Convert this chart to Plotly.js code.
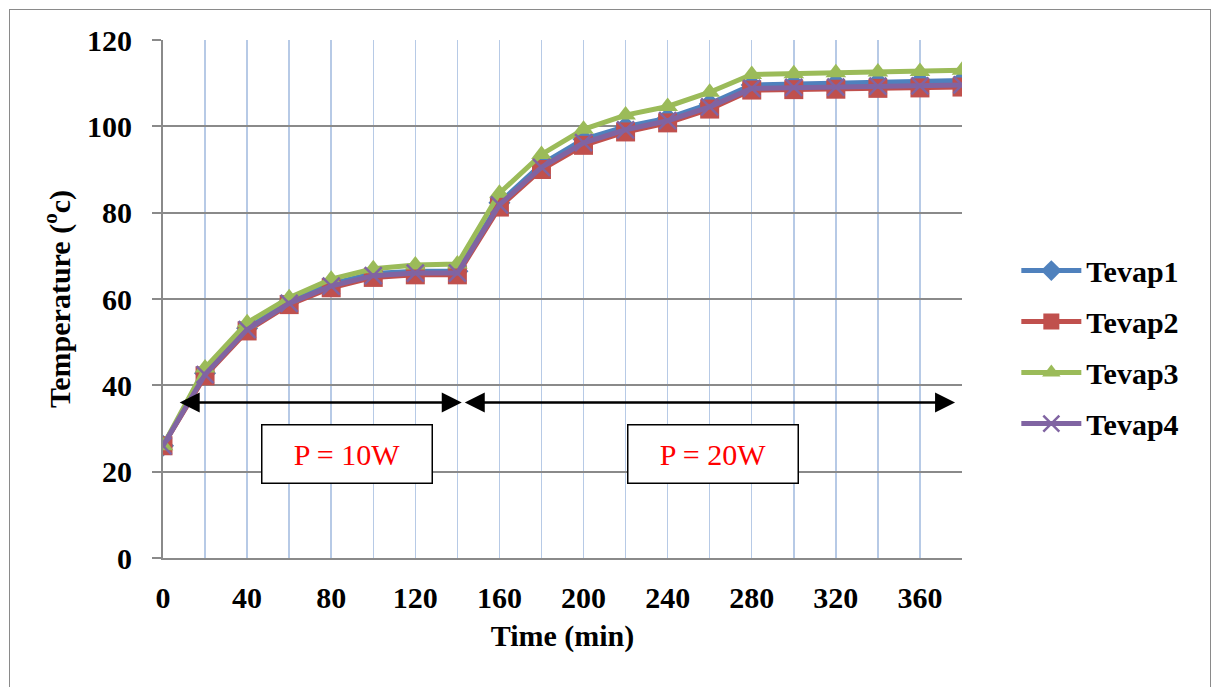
<!DOCTYPE html>
<html>
<head>
<meta charset="utf-8">
<script src="https://cdn.plot.ly/plotly-3.0.1.min.js"></script>
<style>
  html, body { margin: 0; padding: 0; background: #fff; }
  #wrap { position: relative; width: 1219px; height: 687px; overflow: hidden; }
  #chart { width: 1219px; height: 687px; }
  #frame { position: absolute; left: 9px; top: 9px; width: 1202px; height: 700px;
           border: 1.5px solid #8a8a8a; pointer-events: none; box-sizing: border-box; }
</style>
</head>
<body>
<div id="wrap">
  <div id="chart"></div>
  <div id="frame"></div>
</div>
<script>
// ---- data ----
const timeMin = [0, 20, 40, 60, 80, 100, 120, 140, 160, 180, 200, 220, 240, 260, 280, 300, 320, 340, 360, 380];
const tevap1 = [26, 42.8, 53.2, 59.3, 63.5, 65.9, 66.4, 66.4, 82.3, 91.2, 97.0, 99.9, 101.9, 105.2, 109.6, 109.8, 110.0, 110.2, 110.4, 110.6];
const tevap2 = [26, 42.2, 52.6, 58.7, 62.6, 65.0, 65.6, 65.6, 81.3, 90.0, 95.6, 98.7, 100.8, 104.0, 108.4, 108.5, 108.6, 108.8, 108.9, 109.1];
const tevap3 = [26, 44.0, 54.5, 60.3, 64.6, 67.0, 67.9, 68.1, 84.5, 93.5, 99.3, 102.6, 104.6, 107.9, 112.0, 112.2, 112.4, 112.6, 112.7, 113.0];
const tevap4 = [26, 42.5, 52.9, 59.0, 63.0, 65.4, 66.0, 66.0, 81.8, 90.5, 96.2, 99.2, 101.3, 104.5, 108.8, 109.0, 109.1, 109.3, 109.4, 109.6];
const seriesNames = ["Tevap1", "Tevap2", "Tevap3", "Tevap4"];
const xTickVals = [0, 40, 80, 120, 160, 200, 240, 280, 320, 360];
const yTickVals = [0, 20, 40, 60, 80, 100, 120];
// power phases: [start, end, label]
const phaseStart = [6.5, 142.1];
const phaseEnd = [142.1, 376.7];
const phaseLabel = ["P = 10W", "P = 20W"];
const phaseLabelX = [87.5, 261.4];
const arrowY = 36;
const labelY = 24;

const FONT = "Liberation Serif, Times New Roman, serif";

const styles = [
  {color: "#4f81bd", symbol: "diamond", size: 17, lw: 0},
  {color: "#c0504d", symbol: "square", size: 19, lw: 0},
  {color: "#9bbb59", symbol: "triangle-up", size: 18, lw: 0},
  {color: "#8064a2", symbol: "x-thin", size: 17, lw: 2.5}
];
const ys = [tevap1, tevap2, tevap3, tevap4];

const traces = ys.map((y, i) => ({
  x: timeMin, y: y, name: seriesNames[i], type: "scatter", mode: "lines+markers",
  legendgroup: "g" + i,
  line: {color: styles[i].color, width: 5},
  marker: {symbol: styles[i].symbol, size: styles[i].size, color: styles[i].color,
           line: {color: styles[i].color, width: styles[i].lw}}
}));

const annotations = [];
for (let k = 0; k < phaseStart.length; k++) {
  annotations.push({
    x: phaseEnd[k], y: arrowY, ax: phaseStart[k], ay: arrowY, axref: "x", ayref: "y",
    xref: "x", yref: "y", text: " ", font: {size: 10},
    showarrow: true, arrowside: "end+start", arrowhead: 2, startarrowhead: 2,
    arrowsize: 1.6, startarrowsize: 1.6, arrowwidth: 2.5, arrowcolor: "#000",
    standoff: 0, startstandoff: 0
  });
  annotations.push({
    x: phaseLabelX[k], y: labelY, xref: "x", yref: "y", text: phaseLabel[k],
    showarrow: false, font: {family: FONT, size: 30, color: "#ff0000"},
    bgcolor: "#ffffff", bordercolor: "#000000", borderwidth: 1.5, borderpad: 2,
    width: 165, height: 53
  });
}

const layout = {
  width: 1219, height: 687,
  margin: {l: 163, r: 257, t: 40, b: 129, autoexpand: false},
  paper_bgcolor: "#ffffff", plot_bgcolor: "#ffffff",
  font: {family: FONT, size: 30, color: "#000"},
  showlegend: true,
  legend: {
    x: 1.068, xanchor: "left", y: 0.605, yanchor: "top",
    font: {family: FONT, size: 30, weight: "bold", color: "#000"},
    traceorder: "grouped", tracegroupgap: 9, itemwidth: 60,
    bgcolor: "rgba(0,0,0,0)", borderwidth: 0
  },
  xaxis: {
    range: [0, 380], tickmode: "array", tickvals: xTickVals,
    showgrid: true, gridcolor: "#b7cae6", gridwidth: 1.5,
    minor: {tickmode: "linear", tick0: 0, dtick: 20, showgrid: true, gridcolor: "#b7cae6", gridwidth: 1.5, ticks: ""},
    showline: true, linecolor: "#8a8a8a", linewidth: 2, zeroline: false,
    ticks: "", ticklabelstandoff: 12,
    tickfont: {family: FONT, size: 30, weight: "bold"},
    title: {text: "Time (min)", font: {family: FONT, size: 30, weight: "bold"}, standoff: 12},
    automargin: false, fixedrange: true
  },
  yaxis: {
    range: [0, 120], tickmode: "array", tickvals: yTickVals,
    showgrid: true, gridcolor: "#8a8a8a", gridwidth: 2,
    showline: true, linecolor: "#8a8a8a", linewidth: 2, zeroline: false,
    ticks: "outside", ticklen: 9, tickwidth: 2, tickcolor: "#8a8a8a",
    ticklabelstandoff: 14,
    tickfont: {family: FONT, size: 30, weight: "bold"},
    title: {text: "Temperature (<sup>o</sup>c)", font: {family: FONT, size: 30, weight: "bold"}, standoff: 8},
    automargin: false, fixedrange: true
  },
  annotations: annotations
};

Plotly.newPlot("chart", traces, layout, {staticPlot: true, displayModeBar: false}).then(function (gd) {
  // drop the invisible placeholder text of the arrow-only annotations
  gd.querySelectorAll(".annotation-text").forEach(function (t) {
    if (t.textContent.trim() === "") t.parentNode.removeChild(t);
  });
});
</script>
</body>
</html>
